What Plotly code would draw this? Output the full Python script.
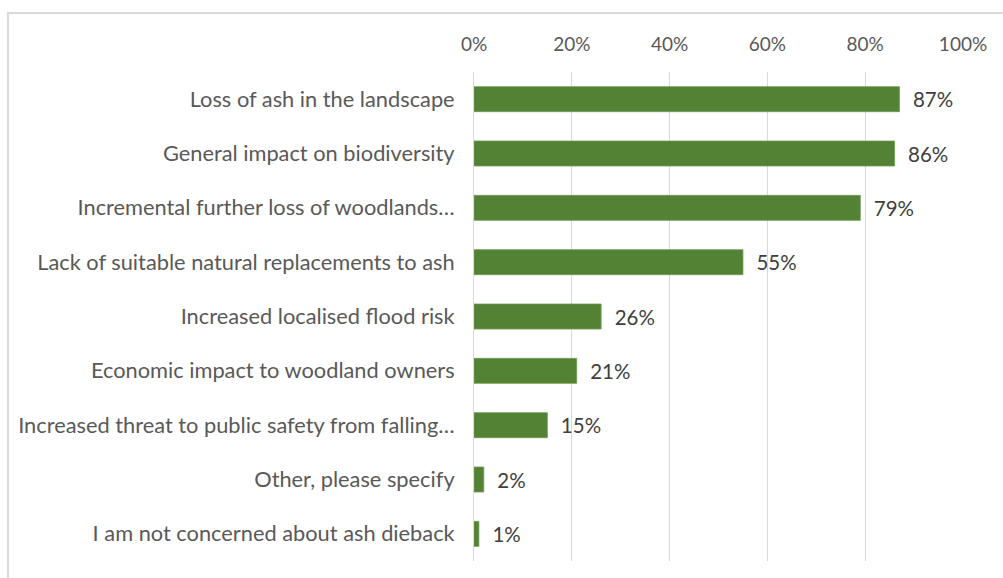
import plotly.graph_objects as go

# Survey responses: concerns about ash dieback (share of respondents)
concerns = [
    "Loss of ash in the landscape",
    "General impact on biodiversity",
    "Incremental further loss of woodlands…",
    "Lack of suitable natural replacements to ash",
    "Increased localised flood risk",
    "Economic impact to woodland owners",
    "Increased threat to public safety from falling…",
    "Other, please specify",
    "I am not concerned about ash dieback",
]
shares = [0.87, 0.86, 0.79, 0.55, 0.26, 0.21, 0.15, 0.02, 0.01]
tick_values = [0, 0.2, 0.4, 0.6, 0.8, 1.0]
tick_labels = ["0%", "20%", "40%", "60%", "80%", "100%"]

FONT = "Lato, 'Open Sans', sans-serif"

fig = go.Figure(
    go.Bar(
        x=shares,
        y=concerns,
        orientation="h",
        marker=dict(color="#548235", line=dict(color="#6f9a52", width=0.8)),
        text=[f"\u00a0\u00a0{round(v * 100)}%" for v in shares],
        textposition="outside",
        textfont=dict(family=FONT, size=20.5, color="#404040"),
        cliponaxis=False,
        hoverinfo="skip",
    )
)

fig.update_layout(
    width=1003,
    height=578,
    margin=dict(l=474, r=40, t=72, b=17),
    paper_bgcolor="white",
    plot_bgcolor="white",
    showlegend=False,
    bargap=0.54,
    font=dict(family=FONT, size=20, color="#595959"),
    shapes=[
        dict(
            type="rect",
            xref="paper", yref="paper",
            x0=-466 / 489, x1=1.2, y0=-0.2, y1=1 + 59 / 489,
            line=dict(color="#d9d9d9", width=2),
            fillcolor="rgba(0,0,0,0)",
            layer="below",
        )
    ],
)

fig.update_xaxes(
    side="top",
    range=[0, 1.0],
    tickvals=tick_values,
    ticktext=tick_labels,
    showgrid=True,
    gridcolor="#d9d9d9",
    gridwidth=1,
    zeroline=False,
    showline=False,
    ticks="",
    ticklabelstandoff=16,
    tickfont=dict(family=FONT, size=19, color="#595959"),
    fixedrange=True,
)

fig.update_yaxes(
    categoryorder="array",
    categoryarray=concerns,
    autorange="reversed",
    showgrid=False,
    zeroline=False,
    showline=True,
    linecolor="#d9d9d9",
    linewidth=1,
    ticks="",
    ticklabelstandoff=14,
    tickfont=dict(family=FONT, size=21.8, color="#595959"),
    fixedrange=True,
)

fig.write_html("out.html", config={"displayModeBar": False})
